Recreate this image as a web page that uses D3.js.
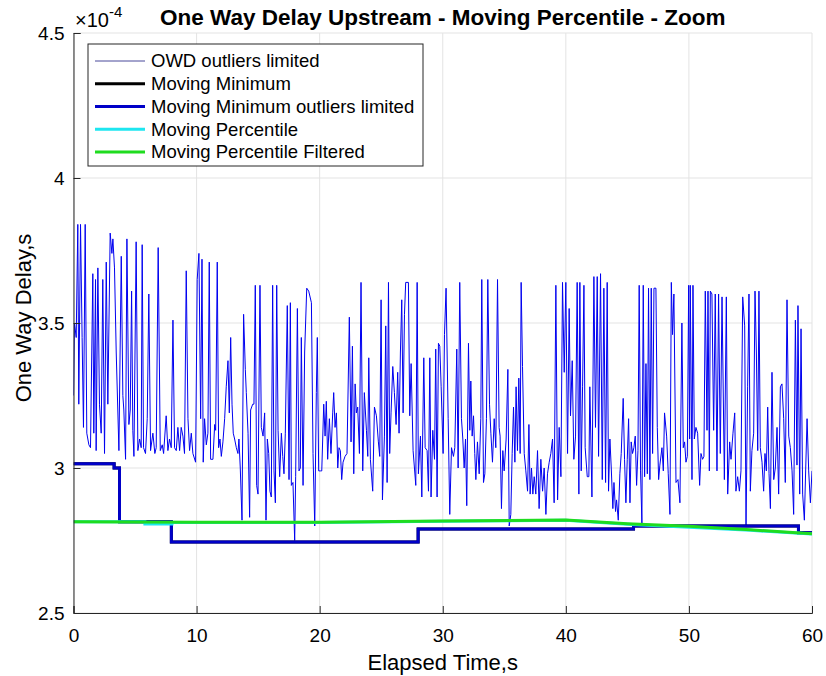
<!DOCTYPE html>
<html><head><meta charset="utf-8">
<script src="https://cdn.jsdelivr.net/npm/d3@7"></script>
<style>
body{margin:0;background:#fff}
text{font-family:"Liberation Sans",Arial,Helvetica,sans-serif;fill:#000}
</style></head>
<body><svg id="chart" width="826" height="676"></svg>
<script>
// ---- data (values in units of 1e-4 s) ----
const xTicks = [0, 10, 20, 30, 40, 50, 60];
const yTicks = [2.5, 3, 3.5, 4, 4.5];
const titleText = "One Way Delay Upstream - Moving Percentile - Zoom";
const xLabel = "Elapsed Time,s";
const yLabel = "One Way Delay,s";
const legendLabels = ["OWD outliers limited", "Moving Minimum", "Moving Minimum outliers limited", "Moving Percentile", "Moving Percentile Filtered"];

// OWD samples [time s, delay x1e-4 s]
const owdSamples = [
[0,3.25],[0.08,3.50],[0.22,3.45],[0.35,3.84],[0.43,3.22],[0.57,3.84],[0.70,3.45],[0.81,3.14],[0.95,3.84],[1.08,3.12],[1.25,3.08],[1.38,3.07],[1.57,3.67],[1.65,3.12],[1.79,3.65],[1.84,3.06],[1.98,3.69],[2.11,3.22],[2.25,3.12],[2.38,3.65],[2.52,3.05],[2.66,3.71],[2.79,3.22],[2.98,3.81],[3.12,3.74],[3.20,3.79],[3.33,3.69],[3.47,3.40],[3.69,3.06],[3.88,3.73],[4.01,3.25],[4.09,3.20],[4.23,3.03],[4.34,3.79],[4.50,3.15],[4.61,3.20],[4.72,3.61],[4.82,3.13],[4.91,3.04],[5.09,3.78],[5.23,3.06],[5.37,3.10],[5.50,3.07],[5.58,3.77],[5.69,3.07],[5.85,3.05],[5.99,3.17],[6.12,3.60],[6.26,3.06],[6.45,3.12],[6.61,3.05],[6.72,3.07],[6.88,3.76],[7.05,3.06],[7.21,3.08],[7.32,3.05],[7.53,3.18],[7.67,3.06],[7.80,3.10],[7.94,3.07],[8.08,3.51],[8.21,3.07],[8.35,3.06],[8.48,3.14],[8.62,3.06],[8.75,3.14],[8.89,3.11],[9.02,3.05],[9.16,3.68],[9.30,3.17],[9.43,3.06],[9.57,3.12],[9.70,3.05],[9.92,3.02],[10.05,3.65],[10.19,3.74],
[10.33,3.17],[10.44,3.72],[10.54,3.02],[10.65,3.17],[10.79,3.08],[10.92,3.12],[11.03,3.71],[11.14,3.03],[11.33,3.03],[11.47,3.15],[11.55,3.13],[11.68,3.71],[11.79,3.07],[11.90,3.10],[12.01,3.04],[12.14,3.09],[12.28,3.17],[12.41,3.28],[12.55,3.37],[12.66,3.19],[12.77,3.45],[12.88,3.22],[12.98,3.12],[13.09,3.10],[13.23,3.07],[13.36,3.05],[13.44,3.10],[13.55,3.00],[13.69,2.82],[13.82,3.53],[13.96,3.34],[14.04,3.26],[14.18,3.12],[14.31,2.83],[14.39,3.20],[14.56,3.22],[14.66,3.22],[14.77,3.63],[14.88,2.94],[14.99,2.91],[15.15,3.63],[15.26,3.14],[15.40,3.11],[15.53,3.19],[15.64,2.82],[15.75,3.10],[15.86,3.05],[15.96,2.92],[16.07,2.90],[16.18,3.63],[16.29,2.99],[16.40,2.88],[16.51,3.63],[16.62,3.13],[16.75,2.97],[16.89,3.12],[17.00,3.04],[17.10,2.98],[17.21,3.12],[17.37,3.56],[17.51,2.96],[17.62,3.57],[17.70,2.94],[17.83,2.95],[17.97,2.75],[18.05,2.97],[18.19,3.55],[18.32,2.99],[18.43,3.00],[18.51,3.45],[18.65,2.94],[18.78,3.40],[18.95,3.62],[19.11,3.61],[19.33,3.57],[19.46,3.05],[19.60,2.80],[19.73,3.26],[19.81,3.45],[19.92,2.99],[20.08,2.99],
[20.17,2.99],[20.33,3.22],[20.44,3.11],[20.54,3.23],[20.65,3.03],[20.79,3.17],[20.92,3.05],[21.06,3.19],[21.14,3.26],[21.25,3.14],[21.36,3.19],[21.47,3.00],[21.57,3.07],[21.68,3.06],[21.79,2.96],[21.90,3.02],[22.06,3.04],[22.22,3.05],[22.41,3.52],[22.55,3.09],[22.66,3.42],[22.77,2.98],[22.88,3.29],[22.98,3.19],[23.09,3.21],[23.23,3.05],[23.36,3.64],[23.50,2.99],[23.63,3.26],[23.80,3.13],[23.91,3.04],[23.99,3.38],[24.12,3.03],[24.31,2.92],[24.45,3.21],[24.61,3.18],[24.77,3.09],[24.88,3.04],[24.99,3.58],[25.10,2.89],[25.26,3.11],[25.37,3.49],[25.48,2.95],[25.59,3.64],[25.69,3.05],[25.80,3.19],[25.94,3.35],[26.07,3.26],[26.21,3.15],[26.34,3.33],[26.45,3.12],[26.56,3.40],[26.67,3.58],[26.78,3.19],[26.89,3.53],[26.99,3.64],[27.21,3.64],[27.32,3.18],[27.43,3.36],[27.59,3.06],[27.70,3.00],[27.81,2.94],[27.92,3.64],[28.02,2.98],[28.19,3.11],[28.30,2.90],[28.46,3.38],[28.57,3.07],[28.73,3.06],[28.84,2.92],[28.95,3.38],[29.05,2.90],[29.19,3.13],[29.33,3.03],[29.43,3.41],[29.54,2.90],[29.65,3.43],[29.76,3.42],[29.87,3.28],[30.03,3.05],[30.14,3.46],[30.27,3.62],
[30.44,3.17],[30.57,2.84],[30.71,3.07],[30.87,3.04],[30.98,3.07],[31.14,3.41],[31.25,3.00],[31.38,3.64],[31.52,3.17],[31.63,3.10],[31.74,3.00],[31.85,3.10],[31.95,2.87],[32.09,3.43],[32.20,3.13],[32.28,3.30],[32.39,3.11],[32.50,3.18],[32.60,3.05],[32.69,2.96],[32.82,3.09],[32.96,2.98],[33.09,3.17],[33.17,3.65],[33.31,2.95],[33.42,2.98],[33.55,3.17],[33.66,3.65],[33.80,3.22],[33.91,3.12],[34.04,3.02],[34.18,3.17],[34.31,3.07],[34.45,3.65],[34.58,3.14],[34.66,3.11],[34.77,2.86],[34.88,3.06],[34.99,2.99],[35.15,3.10],[35.29,3.34],[35.40,2.80],[35.53,2.84],[35.64,3.05],[35.75,3.21],[35.86,3.02],[35.96,3.28],[36.07,3.06],[36.18,3.31],[36.29,3.05],[36.37,3.64],[36.48,3.35],[36.62,3.05],[36.75,2.99],[36.89,2.92],[37.00,3.15],[37.10,2.91],[37.21,3.00],[37.32,2.91],[37.43,2.97],[37.56,2.91],[37.70,3.06],[37.83,2.86],[37.97,3.03],[38.11,2.92],[38.24,3.00],[38.38,2.84],[38.51,2.98],[38.65,3.02],[38.78,3.05],[38.92,3.10],[39.05,2.88],[39.19,3.63],[39.33,2.89],[39.46,3.14],[39.60,2.97],[39.73,3.64],[39.87,3.33],[40.00,3.64],[40.14,3.05],[40.27,3.55],
[40.38,3.18],[40.52,3.37],[40.65,3.03],[40.79,3.11],[40.92,3.64],[41.06,2.91],[41.14,3.64],[41.25,2.99],[41.36,3.28],[41.47,3.63],[41.57,3.07],[41.74,2.97],[41.87,2.97],[41.95,3.28],[42.12,2.90],[42.28,3.66],[42.41,3.14],[42.55,3.66],[42.66,3.04],[42.82,3.67],[42.96,2.96],[43.09,3.62],[43.23,2.95],[43.36,3.64],[43.47,2.92],[43.58,3.10],[43.69,3.00],[43.82,2.86],[43.91,2.95],[44.04,2.85],[44.12,2.89],[44.26,2.82],[44.39,2.98],[44.50,3.05],[44.66,3.24],[44.77,3.03],[44.88,2.88],[44.99,3.03],[45.10,3.17],[45.21,2.88],[45.31,3.09],[45.42,3.05],[45.53,3.07],[45.64,3.11],[45.75,2.94],[45.86,3.06],[45.96,3.63],[46.07,2.99],[46.18,2.81],[46.29,3.63],[46.40,2.97],[46.51,3.36],[46.62,2.98],[46.72,3.62],[46.83,2.96],[46.94,3.62],[47.05,3.05],[47.16,3.62],[47.32,3.62],[47.43,3.14],[47.54,2.96],[47.64,3.01],[47.81,3.07],[47.92,2.99],[48.02,3.19],[48.19,3.11],[48.32,2.98],[48.46,2.84],[48.57,3.64],[48.67,3.46],[48.78,3.60],[48.95,2.95],[49.11,2.96],[49.27,2.88],[49.43,3.50],[49.54,3.07],[49.65,3.09],[49.76,3.02],[49.87,3.04],[49.98,3.63],[50.06,3.10],[50.11,3.63],
[50.25,2.96],[50.33,3.63],[50.44,3.10],[50.57,3.14],[50.71,3.12],[50.87,2.94],[50.98,3.05],[51.11,3.03],[51.22,3.04],[51.33,3.61],[51.47,3.13],[51.55,3.61],[51.66,2.99],[51.74,3.61],[51.87,3.60],[52.01,3.13],[52.14,3.60],[52.28,2.99],[52.41,3.60],[52.55,3.05],[52.69,3.59],[52.88,2.96],[53.04,3.59],[53.15,2.91],[53.31,3.09],[53.42,3.03],[53.58,3.12],[53.72,3.19],[53.82,2.92],[53.96,2.97],[54.10,2.92],[54.23,2.99],[54.37,3.59],[54.53,3.49],[54.64,2.80],[54.77,3.28],[54.88,3.60],[54.99,2.92],[55.12,3.06],[55.26,3.12],[55.37,3.61],[55.48,3.40],[55.59,3.06],[55.69,3.61],[55.80,3.07],[55.94,3.02],[56.07,2.92],[56.18,3.05],[56.29,2.99],[56.40,3.21],[56.51,2.98],[56.62,2.86],[56.75,3.33],[56.89,2.96],[57.02,3.00],[57.16,3.14],[57.29,2.91],[57.43,3.28],[57.56,3.29],[57.70,3.17],[57.83,2.95],[57.97,3.58],[58.11,3.11],[58.24,3.07],[58.38,2.99],[58.51,2.84],[58.65,3.51],[58.78,3.01],[58.86,3.56],[59.00,2.91],[59.11,3.48],[59.24,2.91],[59.38,2.82],[59.49,3.00],[59.60,3.17],[59.73,2.99],[59.87,2.88],[60.00,2.99]
];

// moving minimum (step changes)
const minTimes  = [0, 3.3, 3.74, 7.95, 28.0, 45.5, 58.9, 60];
const minValues = [3.015, 3.0, 2.815, 2.745, 2.79, 2.80, 2.777, 2.777];
const minLimTimes  = [0, 3.3, 3.74, 7.95, 28.0, 45.5, 58.9, 60];
const minLimValues = [3.015, 3.0, 2.815, 2.745, 2.79, 2.80, 2.777, 2.777];
// moving percentile
const pctTimes  = [0, 5.8, 5.8, 8.0, 8.0, 20, 30, 40, 45, 50, 55, 60];
const pctValues = [2.815, 2.815, 2.807, 2.807, 2.812, 2.812, 2.816, 2.820, 2.806, 2.796, 2.785, 2.772];
const pctFiltTimes  = [0, 10, 20, 30, 40, 45, 50, 55, 60];
const pctFiltValues = [2.815, 2.813, 2.813, 2.817, 2.821, 2.808, 2.799, 2.787, 2.773];

// ---- layout ----
const M = {left: 73.5, right: 812, top: 33, bottom: 613};
const svg = d3.select("#chart");
const x = d3.scaleLinear().domain([0, 60]).range([M.left, M.right]);
const y = d3.scaleLinear().domain([2.5, 4.5]).range([M.bottom, M.top]);

// grid
const grid = svg.append("g").attr("stroke", "#e3e3e3").attr("stroke-width", 1);
grid.selectAll("line.gx").data(xTicks).join("line")
  .attr("x1", d => x(d)).attr("x2", d => x(d)).attr("y1", M.top).attr("y2", M.bottom);
grid.selectAll("line.gy").data(yTicks).join("line")
  .attr("y1", d => y(d)).attr("y2", d => y(d)).attr("x1", M.left).attr("x2", M.right);

// clip
svg.append("clipPath").attr("id", "clip").append("rect")
  .attr("x", M.left).attr("y", M.top).attr("width", M.right - M.left).attr("height", M.bottom - M.top);
const plot = svg.append("g").attr("clip-path", "url(#clip)");

const zip = (ts, vs) => ts.map((t, i) => [t, vs[i]]);
const lineLin = d3.line().x(d => x(d[0])).y(d => y(d[1]));
const lineStep = d3.line().x(d => x(d[0])).y(d => y(d[1])).curve(d3.curveStepAfter);

const styles = [
  {color: "#0000f0", width: 1},
  {color: "#000000", width: 3},
  {color: "#0000c8", width: 3},
  {color: "#1ee6f0", width: 3},
  {color: "#1fdc1f", width: 3}
];

plot.append("path").attr("d", lineLin(owdSamples)).attr("fill", "none")
  .attr("stroke", styles[0].color).attr("stroke-width", styles[0].width).attr("stroke-linejoin", "round");
plot.append("path").attr("d", lineStep(zip(minTimes, minValues))).attr("fill", "none")
  .attr("stroke", styles[1].color).attr("stroke-width", styles[1].width);
plot.append("path").attr("d", lineStep(zip(minLimTimes, minLimValues))).attr("fill", "none")
  .attr("stroke", styles[2].color).attr("stroke-width", styles[2].width);
plot.append("path").attr("d", lineLin(zip(pctTimes, pctValues))).attr("fill", "none")
  .attr("stroke", styles[3].color).attr("stroke-width", styles[3].width);
plot.append("path").attr("d", lineLin(zip(pctFiltTimes, pctFiltValues))).attr("fill", "none")
  .attr("stroke", styles[4].color).attr("stroke-width", styles[4].width);

// axes
const axisColor = "#262626";
const xAxis = svg.append("g").attr("transform", `translate(0,${M.bottom})`)
  .call(d3.axisBottom(x).tickValues(xTicks).tickSize(-7).tickPadding(0).tickFormat(d3.format("d")));
const yAxis = svg.append("g").attr("transform", `translate(${M.left},0)`)
  .call(d3.axisLeft(y).tickValues(yTicks).tickSize(-7).tickPadding(0).tickFormat(d => String(d)));
[xAxis, yAxis].forEach(a => {
  a.select(".domain").attr("stroke", axisColor).attr("stroke-width", 1);
  a.selectAll(".tick line").attr("stroke", axisColor);
  a.selectAll(".tick text").attr("fill", "#000").style("font-size", "19px")
    .style("font-family", '"Liberation Sans", Arial, sans-serif');
});
xAxis.selectAll(".tick text").attr("dy", null).attr("y", 29);
yAxis.selectAll(".tick text").attr("x", -9).attr("dy", "0.35em");

// labels
svg.append("text").attr("x", (M.left + M.right) / 2).attr("y", 25).attr("text-anchor", "middle")
  .style("font-size", "22.5px").style("font-weight", "bold").text(titleText);
svg.append("text").attr("x", (M.left + M.right) / 2).attr("y", 670).attr("text-anchor", "middle")
  .style("font-size", "22px").text(xLabel);
svg.append("text").attr("transform", `translate(31,318) rotate(-90)`)
  .attr("text-anchor", "middle").style("font-size", "22px").text(yLabel);
const expo = svg.append("text").attr("x", 75).attr("y", 27).style("font-size", "20px");
expo.append("tspan").text("\u00d710");
expo.append("tspan").attr("dy", -10).style("font-size", "15px").text("-4");

// legend
const lg = svg.append("g");
lg.append("rect").attr("x", 88).attr("y", 44).attr("width", 335).attr("height", 122)
  .attr("fill", "#fff").attr("stroke", axisColor).attr("stroke-width", 1);
const rowY = d3.scalePoint().domain(legendLabels).range([61, 152]);
const rows = lg.selectAll("g.row").data(legendLabels).join("g").attr("transform", d => `translate(0,${rowY(d)})`);
rows.append("line").attr("x1", 95).attr("x2", 145).attr("y1", 0).attr("y2", 0)
  .attr("stroke", (d, i) => i === 0 ? "#1a1a80" : styles[i].color).attr("stroke-width", (d, i) => i === 0 ? 0.8 : styles[i].width);
rows.append("text").attr("x", 151).attr("dy", "0.35em").style("font-size", "18.5px").text(d => d);
</script>
</body></html>
